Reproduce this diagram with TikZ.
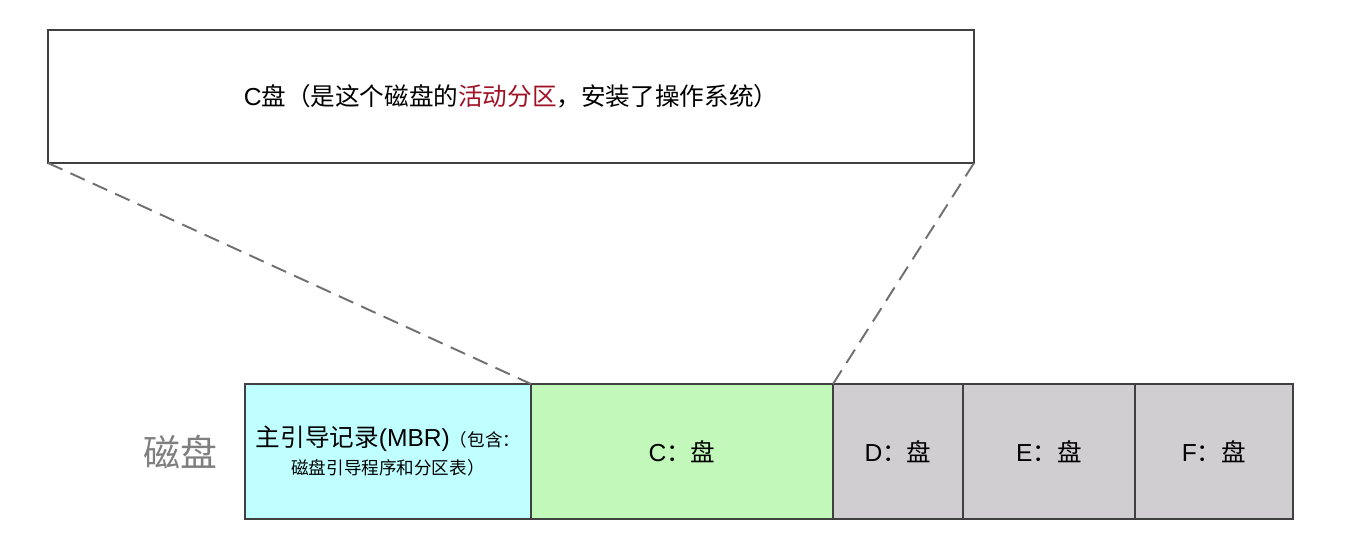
\documentclass[tikz,border=0pt]{standalone}
\usepackage{fontspec}
\setmainfont{Noto Sans CJK SC}
\newfontfamily\latinfont{Liberation Sans}
\usepackage{tikz}
\usetikzlibrary{positioning}
\definecolor{mbrcyan}{HTML}{C0FFFF}
\definecolor{cgreen}{HTML}{C2F8BA}
\definecolor{partgray}{HTML}{D0CED1}
\definecolor{activered}{HTML}{A01225}
\definecolor{labelgray}{HTML}{7F7F7F}
\definecolor{zoomgray}{HTML}{707070}
\newcommand{\lat}[1]{{\latinfont #1}}
\tikzset{
  cell/.style={rectangle, minimum height=2.7cm, draw=black!75, line width=0.6pt,
    outer sep=0pt, inner sep=2pt, align=center, font=\fontsize{14}{17}\selectfont},
  mbrcell/.style={cell, minimum width=5.72cm, fill=mbrcyan},
  ccell/.style={cell, minimum width=6.04cm, fill=cgreen},
  othercell/.style={cell, fill=partgray},
  zoombox/.style={rectangle, minimum width=18.52cm, minimum height=2.66cm,
    draw=black!75, line width=0.6pt, outer sep=0pt, fill=white,
    font=\fontsize{14}{17}\selectfont},
  zoomline/.style={dashed, dash pattern=on 9pt off 5pt, draw=zoomgray, line width=1.1pt}
}

\begin{document}
\begin{tikzpicture}
\useasboundingbox (0,0) rectangle (26.94,10.94);
\node[zoombox] (cinfo) at (10.22,9.01) {\lat{C}盘（是这个磁盘的\textcolor{activered}{活动分区}，安装了操作系统）};
\node[mbrcell, anchor=west] (mbr) at (4.9,1.91)
  {主引导记录\lat{(MBR)}{\fontsize{10}{12}\selectfont （包含：}\\[-1pt]
   {\fontsize{10}{12}\selectfont 磁盘引导程序和分区表）}};
\node[ccell, right=0pt of mbr] (cdisk) {\lat{C}：盘};
\node[othercell, minimum width=2.6cm, right=0pt of cdisk] (ddisk) {\lat{D}：盘};
\node[othercell, minimum width=3.44cm, right=0pt of ddisk] (edisk) {\lat{E}：盘};
\node[othercell, minimum width=3.16cm, right=0pt of edisk] (fdisk) {\lat{F}：盘};
\node[text=labelgray, font=\fontsize{21}{25}\selectfont] (disk) at (3.6,1.91) {磁盘};
\draw[zoomline] (cinfo.south west) -- (cdisk.north west);
\draw[zoomline] (cinfo.south east) -- (cdisk.north east);
\end{tikzpicture}
\end{document}
